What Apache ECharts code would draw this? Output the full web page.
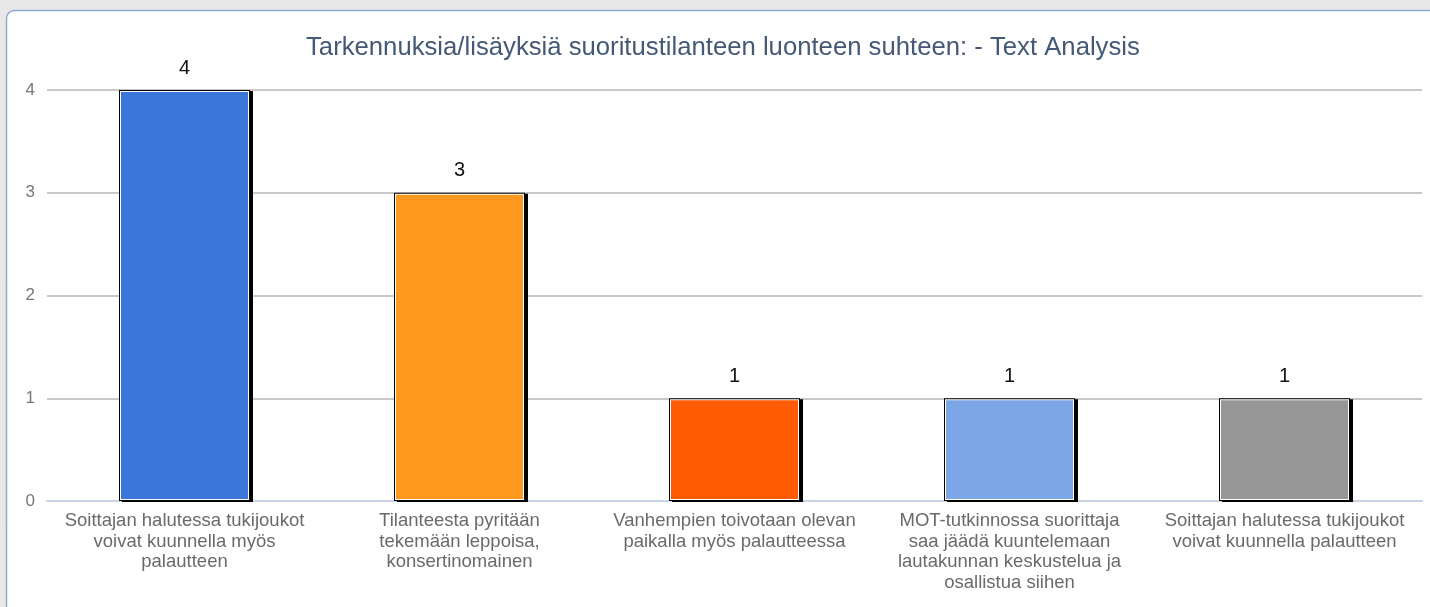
<!DOCTYPE html>
<html>
<head>
<meta charset="utf-8">
<script src="https://cdn.jsdelivr.net/npm/echarts@6/dist/echarts.min.js"></script>
<style>
  html, body { margin: 0; padding: 0; background: #e8e8e8; }
  #main { width: 1430px; height: 607px; }
</style>
</head>
<body>
<div id="main"></div>
<script>
const titleText = "Tarkennuksia/lisäyksiä suoritustilanteen luonteen suhteen: - Text Analysis";
const categories = [
  "Soittajan halutessa tukijoukot\nvoivat kuunnella myös\npalautteen",
  "Tilanteesta pyritään\ntekemään leppoisa,\nkonsertinomainen",
  "Vanhempien toivotaan olevan\npaikalla myös palautteessa",
  "MOT-tutkinnossa suorittaja\nsaa jäädä kuuntelemaan\nlautakunnan keskustelua ja\nosallistua siihen",
  "Soittajan halutessa tukijoukot\nvoivat kuunnella palautteen"
];
const counts = [4, 3, 1, 1, 1];
const barColors = ["#3a76d8", "#fe981f", "#ff5b05", "#7da6e7", "#969696"];

const font = "'Liberation Sans', Arial, sans-serif";
const chart = echarts.init(document.getElementById("main"));

chart.setOption({
  backgroundColor: "#e8e8e8",
  animation: false,
  graphic: [
    {
      type: "rect",
      z: -10,
      shape: { x: 6.5, y: 10.5, width: 1440, height: 620, r: 8 },
      style: { fill: "#ffffff", stroke: "#8eaad0", lineWidth: 1.5 }
    }
  ],
  title: {
    text: titleText,
    left: 301,
    top: 30,
    textStyle: { fontFamily: font, fontSize: 25.7, fontWeight: "normal", color: "#435975" }
  },
  grid: { left: 47, right: 8, top: 90, bottom: 106 },
  xAxis: {
    type: "category",
    data: categories,
    axisLine: { lineStyle: { color: "#c8d4e4", width: 2 } },
    axisTick: { length: 6, lineStyle: { color: "#c8d4e4", width: 2 } },
    axisLabel: {
      margin: 10,
      interval: 0,
      fontFamily: font,
      fontSize: 18.5,
      lineHeight: 20.5,
      color: "#6a6a6a"
    }
  },
  yAxis: {
    type: "value",
    min: 0,
    max: 4,
    interval: 1,
    axisLine: { show: false },
    axisTick: { show: false },
    axisLabel: { margin: 12, fontFamily: font, fontSize: 17, color: "#777" },
    splitLine: { lineStyle: { color: "#c8c8c8", width: 2 } }
  },
  series: [
    {
      // black frame + drop shadow
      type: "bar",
      data: counts,
      barWidth: 131,
      barGap: "-100%",
      silent: true,
      itemStyle: {
        color: "#000",
        shadowColor: "#000",
        shadowBlur: 0,
        shadowOffsetX: 3,
        shadowOffsetY: 1
      }
    },
    {
      // white inner line
      type: "bar",
      data: counts,
      barWidth: 131,
      barGap: "-100%",
      silent: true,
      itemStyle: { color: "#fff", borderColor: "rgba(0,0,0,0)", borderWidth: 2 }
    },
    {
      type: "bar",
      data: counts.map((v, i) => ({ value: v, itemStyle: { color: barColors[i] } })),
      barWidth: 131,
      barGap: "-100%",
      itemStyle: { borderColor: "rgba(0,0,0,0)", borderWidth: 4 },
      label: {
        show: true,
        position: "top",
        distance: 12,
        fontFamily: font,
        fontSize: 20,
        color: "#111"
      }
    }
  ]
});
</script>
</body>
</html>
